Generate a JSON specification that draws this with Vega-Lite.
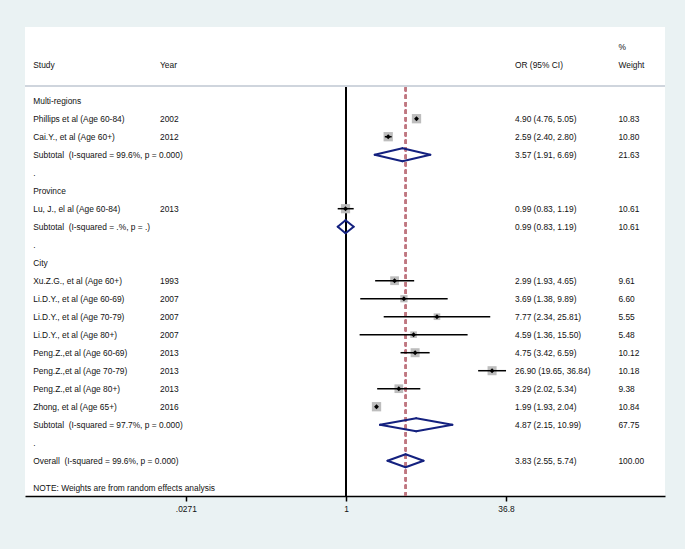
{
  "$schema": "https://vega.github.io/schema/vega-lite/v6.json",
  "width": 640,
  "height": 469,
  "autosize": {"type": "none"},
  "padding": {"left": 25, "top": 27, "right": 20, "bottom": 53},
  "background": "#eaf2f3",
  "config": {
    "view": {"fill": "white", "stroke": null},
    "font": "Liberation Sans",
    "text": {"font": "Liberation Sans", "fontSize": 8.4, "color": "#111111", "baseline": "middle", "align": "left"}
  },
  "datasets": {
    "rows": [
      {"row": -3, "wtxt": "%"},
      {"row": -2, "study": "Study", "year": "Year", "ortxt": "OR (95% CI)", "wtxt": "Weight"},
      {"row": 0, "study": "Multi-regions"},
      {"row": 1, "type": "study", "study": "Phillips et al (Age 60-84)", "year": "2002", "or": 4.90, "lo": 4.76, "hi": 5.05, "ortxt": "4.90 (4.76, 5.05)", "weight": 10.83, "wtxt": "10.83"},
      {"row": 2, "type": "study", "study": "Cai.Y., et al (Age 60+)", "year": "2012", "or": 2.59, "lo": 2.40, "hi": 2.80, "ortxt": "2.59 (2.40, 2.80)", "weight": 10.80, "wtxt": "10.80"},
      {"row": 3, "type": "sub", "study": "Subtotal \u00a0(I-squared = 99.6%, p = 0.000)", "or": 3.57, "lo": 1.91, "hi": 6.69, "ortxt": "3.57 (1.91, 6.69)", "weight": 21.63, "wtxt": "21.63"},
      {"row": 4, "study": "."},
      {"row": 5, "study": "Province"},
      {"row": 6, "type": "study", "study": "Lu, J., el al (Age 60-84)", "year": "2013", "or": 0.99, "lo": 0.83, "hi": 1.19, "ortxt": "0.99 (0.83, 1.19)", "weight": 10.61, "wtxt": "10.61"},
      {"row": 7, "type": "sub", "study": "Subtotal \u00a0(I-squared = .%, p = .)", "or": 0.99, "lo": 0.83, "hi": 1.19, "ortxt": "0.99 (0.83, 1.19)", "weight": 10.61, "wtxt": "10.61"},
      {"row": 8, "study": "."},
      {"row": 9, "study": "City"},
      {"row": 10, "type": "study", "study": "Xu.Z.G., et al (Age 60+)", "year": "1993", "or": 2.99, "lo": 1.93, "hi": 4.65, "ortxt": "2.99 (1.93, 4.65)", "weight": 9.61, "wtxt": "9.61"},
      {"row": 11, "type": "study", "study": "Li.D.Y., et al (Age 60-69)", "year": "2007", "or": 3.69, "lo": 1.38, "hi": 9.89, "ortxt": "3.69 (1.38, 9.89)", "weight": 6.60, "wtxt": "6.60"},
      {"row": 12, "type": "study", "study": "Li.D.Y., et al (Age 70-79)", "year": "2007", "or": 7.77, "lo": 2.34, "hi": 25.81, "ortxt": "7.77 (2.34, 25.81)", "weight": 5.55, "wtxt": "5.55"},
      {"row": 13, "type": "study", "study": "Li.D.Y., et al (Age 80+)", "year": "2007", "or": 4.59, "lo": 1.36, "hi": 15.50, "ortxt": "4.59 (1.36, 15.50)", "weight": 5.48, "wtxt": "5.48"},
      {"row": 14, "type": "study", "study": "Peng.Z.,et al (Age 60-69)", "year": "2013", "or": 4.75, "lo": 3.42, "hi": 6.59, "ortxt": "4.75 (3.42, 6.59)", "weight": 10.12, "wtxt": "10.12"},
      {"row": 15, "type": "study", "study": "Peng.Z.,et al (Age 70-79)", "year": "2013", "or": 26.90, "lo": 19.65, "hi": 36.84, "ortxt": "26.90 (19.65, 36.84)", "weight": 10.18, "wtxt": "10.18"},
      {"row": 16, "type": "study", "study": "Peng.Z.,et al (Age 80+)", "year": "2013", "or": 3.29, "lo": 2.02, "hi": 5.34, "ortxt": "3.29 (2.02, 5.34)", "weight": 9.38, "wtxt": "9.38"},
      {"row": 17, "type": "study", "study": "Zhong, et al (Age 65+)", "year": "2016", "or": 1.99, "lo": 1.93, "hi": 2.04, "ortxt": "1.99 (1.93, 2.04)", "weight": 10.84, "wtxt": "10.84"},
      {"row": 18, "type": "sub", "study": "Subtotal \u00a0(I-squared = 97.7%, p = 0.000)", "or": 4.87, "lo": 2.15, "hi": 10.99, "ortxt": "4.87 (2.15, 10.99)", "weight": 67.75, "wtxt": "67.75"},
      {"row": 19, "study": "."},
      {"row": 20, "type": "sub", "study": "Overall \u00a0(I-squared = 99.6%, p = 0.000)", "or": 3.83, "lo": 2.55, "hi": 5.74, "ortxt": "3.83 (2.55, 5.74)", "weight": 100.00, "wtxt": "100.00"},
      {"row": 21.5, "study": "NOTE: Weights are from random effects analysis"}
    ]
  },
  "data": {"name": "rows"},
  "layer": [
    {
      "mark": {"type": "rule", "color": "#cfd4dc", "strokeWidth": 1.5},
      "encoding": {
        "y": {"datum": -0.82, "type": "quantitative", "scale": {"type": "linear", "domain": [-4.094, 21.96], "reverse": true, "nice": false, "zero": false}, "axis": null}
      }
    },
    {
      "mark": {"type": "rule", "color": "black", "strokeWidth": 1.5},
      "encoding": {
        "x": {
          "datum": 1, "type": "quantitative",
          "scale": {"type": "log", "domain": [0.000723, 1324], "nice": false},
          "axis": {
            "values": [0.0271, 1, 36.8],
            "labelExpr": "datum.value < 0.1 ? '.0271' : (datum.value < 2 ? '1' : '36.8')",
            "title": null, "grid": false,
            "domainColor": "black", "domainWidth": 1.5,
            "tickColor": "black", "tickWidth": 1.5, "tickSize": 5,
            "labelFontSize": 8.4, "labelFont": "Liberation Sans", "labelColor": "#111111",
            "labelPadding": 3, "labelFlush": false, "labelOverlap": false
          }
        },
        "y": {"datum": -0.75, "type": "quantitative", "axis": null},
        "y2": {"datum": 21.96}
      }
    },
    {
      "mark": {"type": "rule", "color": "#bf7880", "strokeWidth": 1.3, "strokeDash": [4, 3.5]},
      "encoding": {
        "x": {"datum": 3.83, "type": "quantitative"},
        "y": {"datum": -0.75, "type": "quantitative", "axis": null},
        "y2": {"datum": 21.96}
      }
    },
    {
      "transform": [{"filter": "datum.type == 'study'"}],
      "mark": {"type": "point", "shape": "square", "filled": true, "color": "#bdbdbd", "opacity": 1},
      "encoding": {
        "x": {"field": "or", "type": "quantitative"},
        "y": {"field": "row", "type": "quantitative", "axis": null},
        "size": {"field": "weight", "type": "quantitative", "scale": {"type": "linear", "domain": [0, 11], "range": [0, 88], "zero": true}, "legend": null}
      }
    },
    {
      "transform": [{"filter": "datum.type == 'study'"}],
      "mark": {"type": "rule", "color": "black", "strokeWidth": 1.5},
      "encoding": {
        "x": {"field": "lo", "type": "quantitative"},
        "x2": {"field": "hi"},
        "y": {"field": "row", "type": "quantitative", "axis": null}
      }
    },
    {
      "transform": [{"filter": "datum.type == 'study'"}],
      "mark": {"type": "point", "shape": "diamond", "filled": true, "color": "black", "opacity": 1, "size": 24},
      "encoding": {
        "x": {"field": "or", "type": "quantitative"},
        "y": {"field": "row", "type": "quantitative", "axis": null}
      }
    },
    {
      "transform": [{"filter": "datum.type == 'sub'"}, {"fold": ["lo", "hi"], "as": ["end", "endval"]}],
      "mark": {"type": "rule", "color": "#14217f", "strokeWidth": 2, "strokeCap": "round", "y2Offset": -6.5},
      "encoding": {
        "x": {"field": "endval", "type": "quantitative"},
        "x2": {"field": "or"},
        "y": {"field": "row", "type": "quantitative", "axis": null},
        "y2": {"field": "row"}
      }
    },
    {
      "transform": [{"filter": "datum.type == 'sub'"}, {"fold": ["lo", "hi"], "as": ["end", "endval"]}],
      "mark": {"type": "rule", "color": "#14217f", "strokeWidth": 2, "strokeCap": "round", "y2Offset": 6.5},
      "encoding": {
        "x": {"field": "endval", "type": "quantitative"},
        "x2": {"field": "or"},
        "y": {"field": "row", "type": "quantitative", "axis": null},
        "y2": {"field": "row"}
      }
    },
    {
      "transform": [{"filter": "isValid(datum.study)"}],
      "mark": {"type": "text"},
      "encoding": {
        "x": {"datum": 0.000871, "type": "quantitative"},
        "y": {"field": "row", "type": "quantitative", "axis": null},
        "text": {"field": "study"}
      }
    },
    {
      "transform": [{"filter": "isValid(datum.year)"}],
      "mark": {"type": "text"},
      "encoding": {
        "x": {"datum": 0.01514, "type": "quantitative"},
        "y": {"field": "row", "type": "quantitative", "axis": null},
        "text": {"field": "year"}
      }
    },
    {
      "transform": [{"filter": "isValid(datum.ortxt)"}],
      "mark": {"type": "text"},
      "encoding": {
        "x": {"datum": 45.07, "type": "quantitative"},
        "y": {"field": "row", "type": "quantitative", "axis": null},
        "text": {"field": "ortxt"}
      }
    },
    {
      "transform": [{"filter": "isValid(datum.wtxt)"}],
      "mark": {"type": "text"},
      "encoding": {
        "x": {"datum": 464, "type": "quantitative"},
        "y": {"field": "row", "type": "quantitative", "axis": null},
        "text": {"field": "wtxt"}
      }
    }
  ]
}
